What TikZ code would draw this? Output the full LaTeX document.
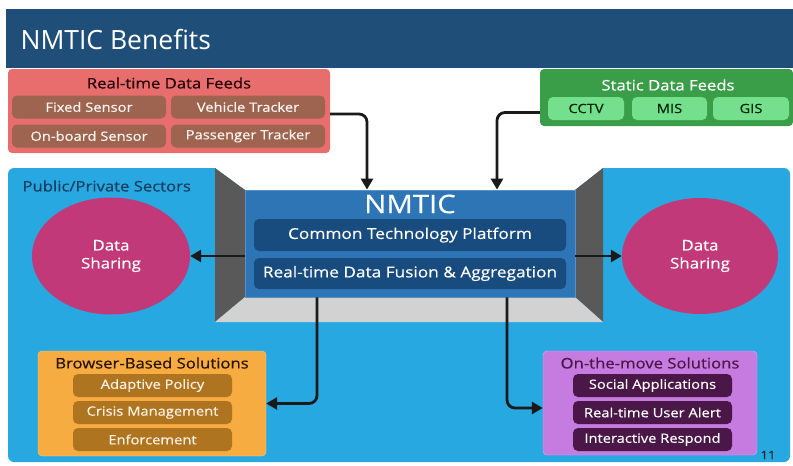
\documentclass[tikz,border=0pt]{standalone}
\usepackage{fontspec}
\setmainfont{Open Sans}
\newfontfamily\widefont{Open Sans}[FakeStretch=1.15,FakeBold=0.4]
\usepackage{tikz}
\usetikzlibrary{positioning,arrows.meta,shapes.geometric}
\definecolor{titlebar}{HTML}{1F4E79}
\definecolor{rtred}{HTML}{E86E6E}
\definecolor{rtbrown}{HTML}{9E6450}
\definecolor{stgreen}{HTML}{3A9E48}
\definecolor{stlight}{HTML}{74E08E}
\definecolor{skyblue}{HTML}{28A8E0}
\definecolor{wallgray}{HTML}{595959}
\definecolor{floorgray}{HTML}{D2D2D2}
\definecolor{nmblue}{HTML}{2E75B6}
\definecolor{nminner}{HTML}{184B7E}
\definecolor{sharepink}{HTML}{C2397A}
\definecolor{brorange}{HTML}{F7AC42}
\definecolor{brbrown}{HTML}{AE7420}
\definecolor{mvpurple}{HTML}{C67BE0}
\definecolor{mvdark}{HTML}{4A1748}
\definecolor{arrowc}{HTML}{1A1A1A}

\begin{document}
\begin{tikzpicture}[x=1pt,y=-1pt,
  panel/.style={rounded corners=4pt,inner sep=0pt},
  item/.style={rounded corners=5pt,inner sep=0pt,minimum height=23pt,
    font=\widefont\fontsize{12.8}{14}\selectfont},
  head/.style={font=\widefont\fontsize{14.5}{16}\selectfont},
  share/.style={ellipse,fill=sharepink,inner sep=0pt,align=center,text=white,
    font=\widefont\fontsize{14.7}{18}\selectfont},
  arr/.style={line width=2.8pt,draw=arrowc,rounded corners=8pt,
    -{Triangle[length=11pt,width=12pt]}}]
  \useasboundingbox (0,0) rectangle (793,466);
  % title bar
  \fill[titlebar] (6,9) rectangle (793,68);
  \node[anchor=west,text=white,font=\fontsize{26.5}{28}\selectfont] (title) at (17,39) {NMTIC Benefits};

  % blue sectors area with the 3-d frame round the platform
  \fill[skyblue,rounded corners=6pt] (8,168) rectangle (790,462);
  \fill[white] (215,168) -- (603,168) -- (575,190) -- (245,190) -- cycle;
  \fill[wallgray] (215,168) -- (245,190) -- (245,297) -- (215,322) -- cycle;
  \fill[wallgray] (603,168) -- (575,190) -- (575,297) -- (603,322) -- cycle;
  \fill[floorgray] (215,322) -- (245,297) -- (575,297) -- (603,322) -- cycle;
  \node[anchor=west,text=titlebar!80!black,head] (sectors) at (19,186) {Public/Private Sectors};

  % real-time feeds
  \node[panel,fill=rtred,minimum width=322pt,minimum height=84pt] (rtfeeds) at (169,111) {};
  \node[head,text=black!85!red] (rttitle) at (169,83) {Real-time Data Feeds};
  \node[item,fill=rtbrown,text=white!92!brown,minimum width=154pt] (fixed) at (89,107) {Fixed Sensor};
  \node[item,fill=rtbrown,text=white!92!brown,minimum width=154pt] (vehicle) at (248,107) {Vehicle Tracker};
  \node[item,fill=rtbrown,text=white!92!brown,minimum width=154pt] (onboard) at (89,136) {On-board Sensor};
  \node[item,fill=rtbrown,text=white!92!brown,minimum width=154pt] (passenger) at (248,136) {Passenger Tracker};

  % static feeds
  \node[panel,fill=stgreen,minimum width=253pt,minimum height=57pt] (stfeeds) at (666.5,97.5) {};
  \node[head,text=white] (sttitle) at (668,85) {Static Data Feeds};
  \node[item,fill=stlight,text=black!85!green,minimum width=76pt] (cctv) at (586,108.5) {CCTV};
  \node[item,fill=stlight,text=black!85!green,minimum width=75pt] (mis) at (669.5,108.5) {MIS};
  \node[item,fill=stlight,text=black!85!green,minimum width=76pt] (gis) at (751,108.5) {GIS};

  % platform
  \node[fill=nmblue,draw=nmblue!80!white,line width=0.8pt,minimum width=330pt,minimum height=107pt,inner sep=0pt] (nmtic) at (410,243.5) {};
  \node[text=white,font=\widefont\fontsize{25.5}{27}\selectfont] (nmtitle) at (410,204) {NMTIC};
  \node[item,fill=nminner,text=white,minimum width=312pt,minimum height=32pt,
    font=\widefont\fontsize{15}{17}\selectfont] (common) at (410,235) {Common Technology Platform};
  \node[item,fill=nminner,text=white,minimum width=312pt,minimum height=31pt,
    font=\widefont\fontsize{15}{17}\selectfont] (fusion) at (410,273.5) {Real-time Data Fusion \& Aggregation};

  % data sharing
  \node[share,minimum width=158pt,minimum height=117pt] (lshare) at (111,256) {Data\\Sharing};
  \node[share,minimum width=156pt,minimum height=116pt] (rshare) at (700,256) {Data\\Sharing};

  % browser-based solutions
  \node[panel,fill=brorange,draw=brorange!60!white,minimum width=228pt,minimum height=105pt] (browser) at (152,403.5) {};
  \node[head,text=black!85!orange] (brtitle) at (152,363) {Browser-Based Solutions};
  \node[item,fill=brbrown,text=white!90!orange,minimum width=159pt] (policy) at (152.5,385.5) {Adaptive Policy};
  \node[item,fill=brbrown,text=white!90!orange,minimum width=159pt] (crisis) at (152.5,412.5) {Crisis Management};
  \node[item,fill=brbrown,text=white!90!orange,minimum width=159pt] (enforce) at (152.5,439.5) {Enforcement};

  % on-the-move solutions
  \node[panel,fill=mvpurple,draw=mvpurple!60!white,minimum width=214pt,minimum height=104pt] (onmove) at (650,403) {};
  \node[head,text=mvdark] (mvtitle) at (650,363) {On-the-move Solutions};
  \node[item,fill=mvdark,text=white,minimum width=159pt] (social) at (652.5,385.5) {Social Applications};
  \node[item,fill=mvdark,text=white,minimum width=159pt] (alert) at (652.5,412.5) {Real-time User Alert};
  \node[item,fill=mvdark,text=white,minimum width=159pt] (respond) at (652.5,439.5) {Interactive Respond};

  \node[font=\widefont\fontsize{11.5}{12}\selectfont,text=black!85] (pagenum) at (768,455) {11};

  % connectors
  \draw[arr] ([yshift=-3pt]rtfeeds.east) -| ([xshift=-43pt]nmtic.north);
  \draw[arr] ([yshift=-15pt]stfeeds.west) -| ([xshift=87pt]nmtic.north);
  \draw[arr] (nmtic.west |- lshare.east) -- (lshare.east);
  \draw[arr] (nmtic.east |- rshare.west) -- (rshare.west);
  \draw[arr] ([xshift=-93pt]nmtic.south) |- (browser.east);
  \draw[arr] ([xshift=97pt]nmtic.south) |- ([yshift=-5pt]onmove.west);
\end{tikzpicture}
\end{document}
